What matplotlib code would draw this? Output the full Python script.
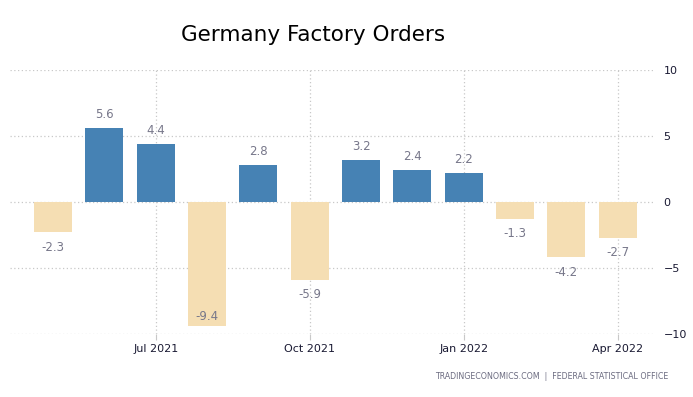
import matplotlib
matplotlib.use("Agg")
import matplotlib.pyplot as plt

months = ["May 2021", "Jun 2021", "Jul 2021", "Aug 2021", "Sep 2021", "Oct 2021",
          "Nov 2021", "Dec 2021", "Jan 2022", "Feb 2022", "Mar 2022", "Apr 2022"]
values = [-2.3, 5.6, 4.4, -9.4, 2.8, -5.9, 3.2, 2.4, 2.2, -1.3, -4.2, -2.7]
tick_labels = ["Jul 2021", "Oct 2021", "Jan 2022", "Apr 2022"]
y_ticks = [-10, -5, 0, 5, 10]

pos_color = "#4682b4"
neg_color = "#f5deb3"
grid_color = "#c8c8c8"

fig = plt.figure(figsize=(6.93, 3.97), dpi=100)
ax = fig.add_axes([0.0144, 0.1587, 0.931, 0.665])

x = list(range(len(values)))
colors = [pos_color if v >= 0 else neg_color for v in values]
ax.bar(x, values, width=0.74, color=colors, zorder=2)

# value labels
for xi, v in zip(x, values):
    if v >= 0:
        ax.annotate(f"{v:.1f}", (xi, v), xytext=(0, 5), textcoords="offset points",
                    ha="center", va="bottom", fontsize=8.5, color="#77778a")
    elif v < -8:
        ax.annotate(f"{v:.1f}", (xi, v), xytext=(0, 2), textcoords="offset points",
                    ha="center", va="bottom", fontsize=8.5, color="#77778a")
    else:
        ax.annotate(f"{v:.1f}", (xi, v), xytext=(0, -6), textcoords="offset points",
                    ha="center", va="top", fontsize=8.5, color="#77778a")

ax.set_xlim(-0.84, 11.73)
ax.set_ylim(-10, 10)

ax.set_xticks([months.index(m) for m in tick_labels])
ax.set_xticklabels(tick_labels)
ax.set_yticks(y_ticks)
ax.yaxis.tick_right()

ax.tick_params(axis="x", length=4, color=grid_color, labelsize=8, labelcolor="#1a1a33", pad=3)
ax.tick_params(axis="y", length=0, labelsize=8, labelcolor="#1a1a33", pad=6)

ax.grid(True, linestyle=(0, (1, 2)), color=grid_color, linewidth=0.9, zorder=0)
ax.set_axisbelow(True)
for s in ax.spines.values():
    s.set_visible(False)

fig.text(0.452, 0.912, "Germany Factory Orders", ha="center", va="center",
         fontsize=15.5, color="black")
fig.text(0.964, 0.052, "TRADINGECONOMICS.COM  |  FEDERAL STATISTICAL OFFICE",
         ha="right", va="center", fontsize=5.7, color="#6b6b80")

fig.savefig("out.png", dpi=100)
